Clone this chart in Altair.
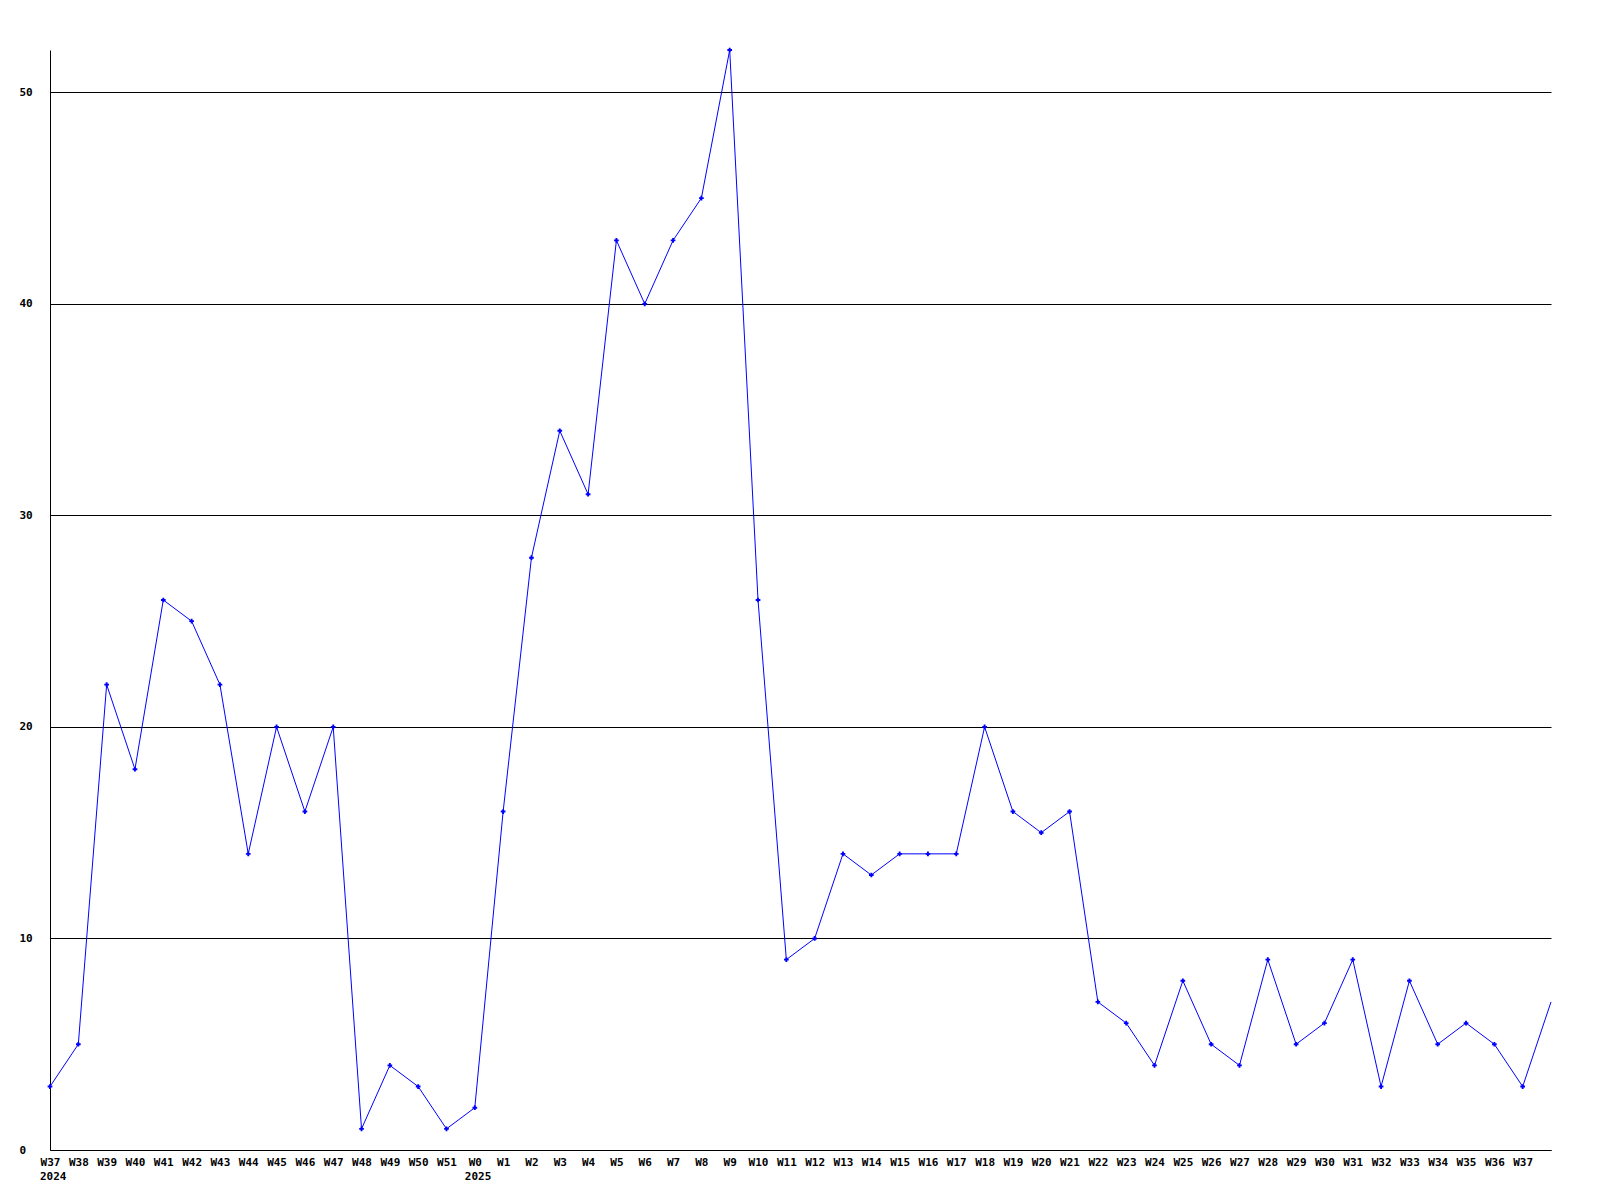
import altair as alt
import pandas as pd

weeks = ["W37", "W38", "W39", "W40", "W41", "W42", "W43", "W44", "W45", "W46", "W47", "W48",
         "W49", "W50", "W51", "W0", "W1", "W2", "W3", "W4", "W5", "W6", "W7", "W8", "W9",
         "W10", "W11", "W12", "W13", "W14", "W15", "W16", "W17", "W18", "W19", "W20", "W21",
         "W22", "W23", "W24", "W25", "W26", "W27", "W28", "W29", "W30", "W31", "W32", "W33",
         "W34", "W35", "W36", "W37", ""]
values = [3, 5, 22, 18, 26, 25, 22, 14, 20, 16, 20, 1,
          4, 3, 1, 2, 16, 28, 34, 31, 43, 40, 43, 45, 52,
          26, 9, 10, 14, 13, 14, 14, 14, 20, 16, 15, 16,
          7, 6, 4, 8, 5, 4, 9, 5, 6, 9, 3, 8,
          5, 6, 5, 3, 7]
year_labels = ["2024", "2025"]
year_index = [0, 15]

df = pd.DataFrame({"i": list(range(len(values))), "week": weeks, "value": values})
df["marker"] = [w != "" for w in weeks]
years = pd.DataFrame({"i": year_index, "year": year_labels})

FONT = "DejaVu Sans Mono"
label_js = "[" + ",".join('"%s"' % w for w in weeks) + "]"

x = alt.X("i:O", scale=alt.Scale(type="point", padding=0, domain=list(range(len(values)))),
          axis=alt.Axis(labelExpr=label_js + "[datum.value]",
                        title=None, grid=False, ticks=False, tickSize=0, domainColor="black",
                        labelFont=FONT, labelFontSize=11, labelFontWeight="bold", labelColor="black",
                        labelPadding=6, labelOverlap=False, labelFlush=False, labelAngle=0,
                        labelBound=False))
y = alt.Y("value:Q", scale=alt.Scale(domain=[0, 52], nice=False),
          axis=alt.Axis(values=[0, 10, 20, 30, 40, 50], title=None, grid=True, gridColor="black",
                        gridOpacity=1, gridWidth=1, ticks=False, tickSize=0, domainColor="black",
                        labelFont=FONT, labelFontSize=11, labelFontWeight="bold", labelColor="black",
                        labelAlign="left", labelPadding=31, labelBaseline="middle"))

line = alt.Chart(df).mark_line(color="#0000FF", strokeWidth=1).encode(x=x, y=y)
pts = alt.Chart(df).transform_filter("datum.marker").mark_point(
    shape="cross", filled=True, color="#0000FF", size=22, opacity=1).encode(x=x, y=y)
yr = alt.Chart(years).mark_text(font=FONT, fontSize=11, fontWeight="bold", color="black",
                                align="left", baseline="middle", dx=-10).encode(
    x=alt.X("i:O"), y=alt.value(1127), text="year:N")

chart = alt.layer(line, pts, yr).properties(
    width=1501, height=1100,
    padding={"left": 42, "top": 42, "right": 10, "bottom": 50},
    autosize=alt.AutoSizeParams(type="none"),
    background="white",
).configure_view(stroke=None, strokeWidth=0)

chart.save("out.html", embed_options={"renderer": "svg", "actions": False})
